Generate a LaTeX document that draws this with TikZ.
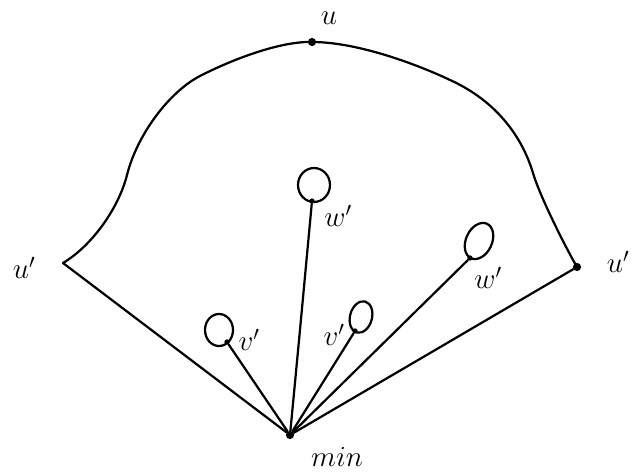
\documentclass[tikz,border=0pt]{standalone}
\begin{document}
\begin{tikzpicture}[x=0.03cm,y=-0.03cm,
  stroke/.style={line width=1.9pt,line cap=round,line join=round},
  dot/.style={circle,fill=black,inner sep=0pt,minimum size=4.5pt},
  bigdot/.style={circle,fill=black,inner sep=0pt,minimum size=7pt},
  lab/.style={font=\fontsize{27}{30}\selectfont,inner sep=0pt}]
\useasboundingbox (0,0) rectangle (642,476);
% vertices
\coordinate (uL) at (63,263);
\node[bigdot] (u) at (312,42) {};
\node[bigdot] (uR) at (577,267) {};
\node[bigdot] (min) at (290,435) {};
\node[dot] (v1) at (227,342) {};
\node[dot] (v2) at (355,331) {};
\node[dot] (w1) at (312,201) {};
\node[dot] (w2) at (470,258) {};
% labels
\node[lab] (lu) at (329,18) {$u$};
\node[lab] (luL) at (24,268) {$u'$};
\node[lab] (luR) at (618,262) {$u'$};
\node[lab] (lv1) at (249,340) {$v'$};
\node[lab] (lv2) at (334,335) {$v'$};
\node[lab] (lw1) at (338,216) {$w'$};
\node[lab] (lw2) at (488,278) {$w'$};
\node[lab] (lmin) at (337,457) {$min$};
% outer curve
\draw[stroke] (uL) .. controls (93,245) and (119,207) .. (127,175)
  .. controls (137,135) and (169,92) .. (200,76)
  .. controls (231,60) and (280,41) .. (u.center)
  .. controls (360,42) and (423,67) .. (450,80)
  .. controls (490,98) and (520,130) .. (533,173)
  .. controls (540,197) and (567,250) .. (uR.center);
% loops
\draw[stroke] (219,330) ellipse (14 and 16);
\draw[stroke,rotate around={-15:(361,317)}] (361,317) ellipse (11 and 16);
\draw[stroke] (314,185) ellipse (16 and 17);
\draw[stroke,rotate around={-25:(479,241)}] (479,241) ellipse (13 and 19);
% edges from min
\draw[stroke] (min) -- (uL);
\draw[stroke] (min) -- (v1);
\draw[stroke] (min) .. controls (300,330) .. (w1);
\draw[stroke] (min) -- (v2);
\draw[stroke] (min) -- (w2);
\draw[stroke] (min) -- (uR);
\end{tikzpicture}
\end{document}
